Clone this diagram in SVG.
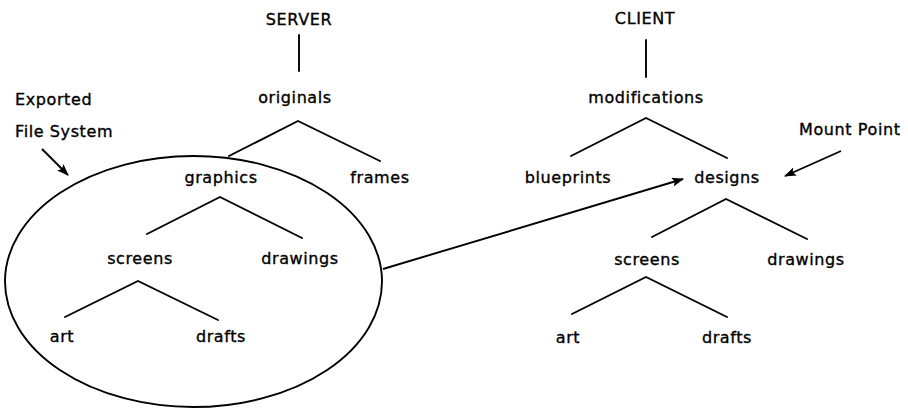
<svg xmlns="http://www.w3.org/2000/svg" width="908" height="409" viewBox="0 0 908 409">
  <style>
    .lbl { font-family: "DejaVu Sans", "Liberation Sans", sans-serif; font-size: 16px; letter-spacing: 0.6px; fill: #000; stroke: #000; stroke-width: 0.35px; text-anchor: middle; }
    .note { text-anchor: start; }
    .edge { stroke: #000; stroke-width: 1.9; fill: none; stroke-linecap: round; }
    .arrow { stroke: #000; stroke-width: 1.9; fill: none; marker-end: url(#head); }
  </style>
  <defs>
    <marker id="head" viewBox="0 0 12 9" refX="11" refY="4.5" markerWidth="12" markerHeight="9" markerUnits="userSpaceOnUse" orient="auto">
      <path d="M0,0 L12,4.5 L0,9 L2.5,4.5 Z" fill="#000"/>
    </marker>
  </defs>

  <rect width="908" height="409" fill="#fff"/>

  <!-- exported sub-tree boundary -->
  <ellipse id="export-boundary" cx="193.5" cy="281.5" rx="188.5" ry="125.5" class="edge"/>

  <g id="connectors">
    <!-- server tree -->
    <line class="edge" x1="299" y1="35" x2="299" y2="71"/>
    <polyline class="edge" points="229,156 298,121 380,161"/>
    <polyline class="edge" points="147,234 220,197 302,238"/>
    <polyline class="edge" points="65,317 138,281 218,320"/>
    <!-- client tree -->
    <line class="edge" x1="646" y1="40" x2="646" y2="77"/>
    <polyline class="edge" points="571,156 646,118 727,158"/>
    <polyline class="edge" points="652,237 726,199 807,239"/>
    <polyline class="edge" points="572,314 646,277 727,317"/>
    <!-- mount link and callouts -->
    <line class="arrow" x1="383" y1="269" x2="683" y2="179"/>
    <line class="arrow" x1="42" y1="149" x2="68" y2="175"/>
    <line class="arrow" x1="841" y1="151" x2="785" y2="176"/>
  </g>

  <!-- server side -->
  <g id="server"><text class="lbl" x="299" y="25">SERVER</text></g>
  <g id="originals"><text class="lbl" x="295" y="103">originals</text></g>
  <g id="graphics"><text class="lbl" x="221" y="183">graphics</text></g>
  <g id="frames"><text class="lbl" x="380" y="183">frames</text></g>
  <g id="screens-s"><text class="lbl" x="140" y="264">screens</text></g>
  <g id="drawings-s"><text class="lbl" x="300" y="264">drawings</text></g>
  <g id="art-s"><text class="lbl" x="62" y="342">art</text></g>
  <g id="drafts-s"><text class="lbl" x="221" y="342">drafts</text></g>

  <!-- client side -->
  <g id="client"><text class="lbl" x="645" y="24">CLIENT</text></g>
  <g id="modifications"><text class="lbl" x="646" y="103">modifications</text></g>
  <g id="blueprints"><text class="lbl" x="568" y="183">blueprints</text></g>
  <g id="designs"><text class="lbl" x="727" y="183">designs</text></g>
  <g id="screens-c"><text class="lbl" x="647" y="265">screens</text></g>
  <g id="drawings-c"><text class="lbl" x="806" y="265">drawings</text></g>
  <g id="art-c"><text class="lbl" x="568" y="343">art</text></g>
  <g id="drafts-c"><text class="lbl" x="727" y="343">drafts</text></g>

  <!-- callout labels -->
  <g id="exported-label">
    <text class="lbl note" x="15" y="105">Exported</text>
    <text class="lbl note" x="15" y="137">File System</text>
  </g>
  <g id="mount-label"><text class="lbl note" x="799" y="135">Mount Point</text></g>
</svg>
